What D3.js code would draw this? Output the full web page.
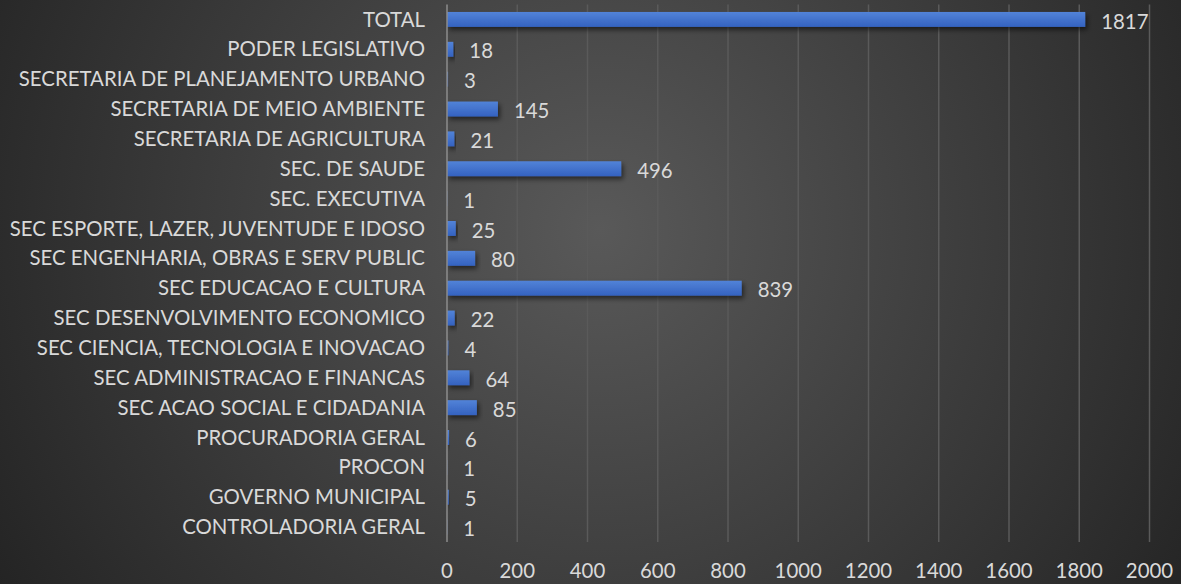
<!DOCTYPE html>
<html>
<head>
<meta charset="utf-8">
<script src="https://cdn.jsdelivr.net/npm/d3@7"></script>
<style>
  html, body { margin: 0; padding: 0; background: #262626; }
  svg { display: block; }
</style>
</head>
<body>
<div id="chart"></div>
<script>
// categories top to bottom, as in the picture
const categories = [
  'TOTAL',
  'PODER LEGISLATIVO',
  'SECRETARIA DE PLANEJAMENTO URBANO',
  'SECRETARIA DE MEIO AMBIENTE',
  'SECRETARIA DE AGRICULTURA',
  'SEC. DE SAUDE',
  'SEC. EXECUTIVA',
  'SEC ESPORTE, LAZER, JUVENTUDE E IDOSO',
  'SEC ENGENHARIA, OBRAS E SERV PUBLIC',
  'SEC EDUCACAO E CULTURA',
  'SEC DESENVOLVIMENTO ECONOMICO',
  'SEC CIENCIA, TECNOLOGIA E INOVACAO',
  'SEC ADMINISTRACAO E FINANCAS',
  'SEC ACAO SOCIAL E CIDADANIA',
  'PROCURADORIA GERAL',
  'PROCON',
  'GOVERNO MUNICIPAL',
  'CONTROLADORIA GERAL'
];
const values = [1817, 18, 3, 145, 21, 496, 1, 25, 80, 839, 22, 4, 64, 85, 6, 1, 5, 1];
const xTicks = [0, 200, 400, 600, 800, 1000, 1200, 1400, 1600, 1800, 2000];

const W = 1181, H = 584;
const margin = { top: 4.5, right: 31.5, bottom: 42, left: 447 };
const width = W - margin.left - margin.right;
const height = H - margin.top - margin.bottom;

const svg = d3.select('#chart').append('svg')
  .attr('width', W)
  .attr('height', H);

const defs = svg.append('defs');
const bg = defs.append('radialGradient')
  .attr('id', 'bg')
  .attr('gradientUnits', 'userSpaceOnUse')
  .attr('cx', 600).attr('cy', 230).attr('r', 700);
bg.append('stop').attr('offset', '0%').attr('stop-color', '#595959');
bg.append('stop').attr('offset', '100%').attr('stop-color', '#242424');

const barGrad = defs.append('linearGradient')
  .attr('id', 'barGrad')
  .attr('x1', 0).attr('y1', 0).attr('x2', 0).attr('y2', 1);
barGrad.append('stop').attr('offset', '0%').attr('stop-color', '#5283d8');
barGrad.append('stop').attr('offset', '100%').attr('stop-color', '#3462c0');

const shadow = defs.append('filter').attr('id', 'shadow')
  .attr('x', '-10%').attr('y', '-50%').attr('width', '130%').attr('height', '250%');
shadow.append('feDropShadow')
  .attr('dx', 2).attr('dy', 3).attr('stdDeviation', 2.5)
  .attr('flood-color', '#000').attr('flood-opacity', 0.55);

svg.append('rect').attr('width', W).attr('height', H).attr('fill', 'url(#bg)');

const g = svg.append('g')
  .attr('transform', `translate(${margin.left},${margin.top})`);

const x = d3.scaleLinear().domain([0, 2000]).range([0, width]);
const y = d3.scaleBand().domain(categories).range([0, height]).paddingInner(0.5).paddingOuter(0.25);

// gridlines
g.selectAll('.grid')
  .data(xTicks.slice(1))
  .enter().append('line')
  .attr('class', 'grid')
  .attr('x1', d => x(d)).attr('x2', d => x(d))
  .attr('y1', 0).attr('y2', height)
  .attr('stroke', '#5a5a5a')
  .attr('stroke-width', 1.5);

// bars
g.selectAll('.bar')
  .data(values)
  .enter().append('rect')
  .attr('class', 'bar')
  .attr('x', x(0))
  .attr('y', (d, i) => y(categories[i]))
  .attr('width', d => x(d) - x(0))
  .attr('height', y.bandwidth())
  .attr('fill', 'url(#barGrad)')
  .attr('filter', 'url(#shadow)');

// zero axis line
g.append('line')
  .attr('x1', x(0)).attr('x2', x(0))
  .attr('y1', 0).attr('y2', height)
  .attr('stroke', '#8c8c8c')
  .attr('stroke-width', 1.5);

const font = 'Lato, "Open Sans", sans-serif';
const fontSize = '20.4px';

// category labels
g.append('g')
  .selectAll('text')
  .data(categories)
  .enter().append('text')
  .attr('x', -22)
  .attr('y', d => y(d) + y.bandwidth() / 2)
  .attr('dy', '0.35em')
  .attr('text-anchor', 'end')
  .attr('fill', '#d9d9d9')
  .style('font-family', font)
  .style('font-size', fontSize)
  .text(d => d);

// value labels
g.append('g')
  .selectAll('text')
  .data(values)
  .enter().append('text')
  .attr('x', d => x(d) + 16)
  .attr('y', (d, i) => y(categories[i]) + y.bandwidth() / 2 + 2)
  .attr('dy', '0.35em')
  .attr('fill', '#d9d9d9')
  .style('font-family', font)
  .style('font-size', fontSize)
  .text(d => d);

// x tick labels
g.append('g')
  .selectAll('text')
  .data(xTicks)
  .enter().append('text')
  .attr('x', d => x(d))
  .attr('y', height + 29)
  .attr('dy', '0.35em')
  .attr('text-anchor', 'middle')
  .attr('fill', '#d9d9d9')
  .style('font-family', font)
  .style('font-size', fontSize)
  .text(d => d);
</script>
</body>
</html>
